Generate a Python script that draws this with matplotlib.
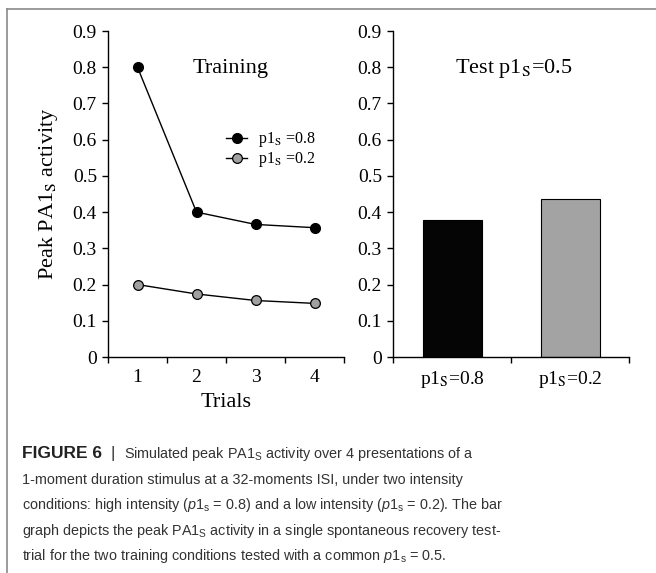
import matplotlib
matplotlib.use("Agg")
import matplotlib.pyplot as plt
from matplotlib.lines import Line2D

# peak activity over training trials, two intensity conditions
trials = [1, 2, 3, 4]
train_high = [0.80, 0.40, 0.366, 0.357]
train_low = [0.20, 0.174, 0.156, 0.148]

# single test trial after training
test_labels = [r"p1$_\mathrm{S}$=0.8", r"p1$_\mathrm{S}$=0.2"]
test_values = [0.379, 0.435]

yticks = [0, 0.1, 0.2, 0.3, 0.4, 0.5, 0.6, 0.7, 0.8, 0.9]
ytick_labels = ["0", "0.1", "0.2", "0.3", "0.4", "0.5", "0.6", "0.7", "0.8", "0.9"]

caption_head = "FIGURE 6"
caption_lines = [
    r"Simulated peak PA1$_\mathrm{S}$ activity over 4 presentations of a",
    "1-moment duration stimulus at a 32-moments ISI, under two intensity",
    r"conditions: high intensity ($\mathit{p}$1$_\mathrm{s}$ = 0.8) and a low intensity ($\mathit{p}$1$_\mathrm{s}$ = 0.2). The bar",
    r"graph depicts the peak PA1$_\mathrm{S}$ activity in a single spontaneous recovery test-",
    r"trial for the two training conditions tested with a common $\mathit{p}$1$_\mathrm{s}$ = 0.5.",
]

plt.rcParams["font.family"] = "Liberation Serif"
plt.rcParams["mathtext.fontset"] = "stix"
plt.rcParams["mathtext.rm"] = "Liberation Sans"
plt.rcParams["mathtext.it"] = "Liberation Sans:italic"
plt.rcParams["mathtext.bf"] = "Liberation Sans:bold"
plt.rcParams["axes.linewidth"] = 1.0

W, H = 656, 573
fig = plt.figure(figsize=(W / 100, H / 100), dpi=100)


def px_axes(x0, y0, x1, y1):
    return fig.add_axes([x0 / W, 1 - y1 / H, (x1 - x0) / W, (y1 - y0) / H])


def style_axes(ax):
    for side in ("top", "right"):
        ax.spines[side].set_visible(False)
    ax.set_ylim(0, 0.9)
    ax.set_yticks(yticks)
    ax.set_yticklabels(ytick_labels, fontsize=14)
    ax.tick_params(axis="y", direction="out", length=4, width=1.0, pad=4)
    ax.tick_params(axis="x", which="both", length=0, labelsize=14, pad=9)
    ax.tick_params(axis="x", which="minor", direction="out", length=4, width=1.0)


# left panel: training curves
ax1 = px_axes(108, 31, 344, 357)
style_axes(ax1)
ax1.plot(trials, train_high, color="black", lw=1.0, marker="o", ms=7,
         mfc="black", mec="black", label=r"p1$_\mathrm{S}$ =0.8")
ax1.plot(trials, train_low, color="black", lw=1.0, marker="o", ms=7,
         mfc="#a0a0a0", mec="black", mew=0.9, label=r"p1$_\mathrm{S}$ =0.2")
ax1.set_xlim(0.5, 4.5)
ax1.set_xticks(trials)
ax1.set_xticks([0.5, 1.5, 2.5, 3.5, 4.5], minor=True)
ax1.set_xlabel("Trials", fontsize=16, labelpad=5)
ax1.set_ylabel(r"Peak PA1$_\mathrm{S}$ activity", fontsize=16, labelpad=9)
ax1.text(0.52, 0.885, "Training", transform=ax1.transAxes, fontsize=16,
         ha="center", va="center")
leg = ax1.legend(loc="upper left", bbox_to_anchor=(0.475, 0.715), frameon=False,
                 fontsize=11.5, handlelength=1.3, handletextpad=0.7,
                 labelspacing=0.05, borderaxespad=0)

# right panel: test trial bars
ax2 = px_axes(393, 31, 629, 357)
style_axes(ax2)
ax2.bar(range(len(test_values)), test_values, width=0.5,
        color=["#050505", "#a3a3a3"], edgecolor="black", linewidth=0.8)
ax2.set_xlim(-0.5, 1.5)
ax2.set_xticks(range(len(test_values)))
ax2.set_xticklabels(test_labels)
ax2.set_xticks([-0.5, 0.5, 1.5], minor=True)
ax2.text(0.51, 0.885, r"Test p1$_\mathrm{S}$=0.5", transform=ax2.transAxes,
         fontsize=16, ha="center", va="center")

# caption below the panels
cap_x = 22
baselines = [458, 483.6, 509.2, 534.8, 560.4]
cap_kw = dict(family="Liberation Sans", color="#333333", ha="left",
              va="baseline", math_fontfamily="custom")

head = fig.text(cap_x / W, 1 - baselines[0] / H, caption_head, fontsize=12.5,
                weight="bold", **{**cap_kw, "color": "#222222"})
renderer = fig.canvas.get_renderer()
head_end = head.get_window_extent(renderer).x1
fig.text((head_end + 8) / W, 1 - baselines[0] / H, "|", fontsize=12, **cap_kw)

for i, (line, yb) in enumerate(zip(caption_lines, baselines)):
    x = (head_end + 22) if i == 0 else cap_x
    fig.text(x / W, 1 - yb / H, line, fontsize=10.4, **cap_kw)

# thin frame along the top and left edges
frame_kw = dict(transform=fig.transFigure, color="#8a8a8a", lw=1.2)
fig.add_artist(Line2D([7 / W, 1], [1 - 9 / H, 1 - 9 / H], **frame_kw))
fig.add_artist(Line2D([7 / W, 7 / W], [0, 1 - 9 / H], **frame_kw))

fig.savefig("out.png", dpi=100)
